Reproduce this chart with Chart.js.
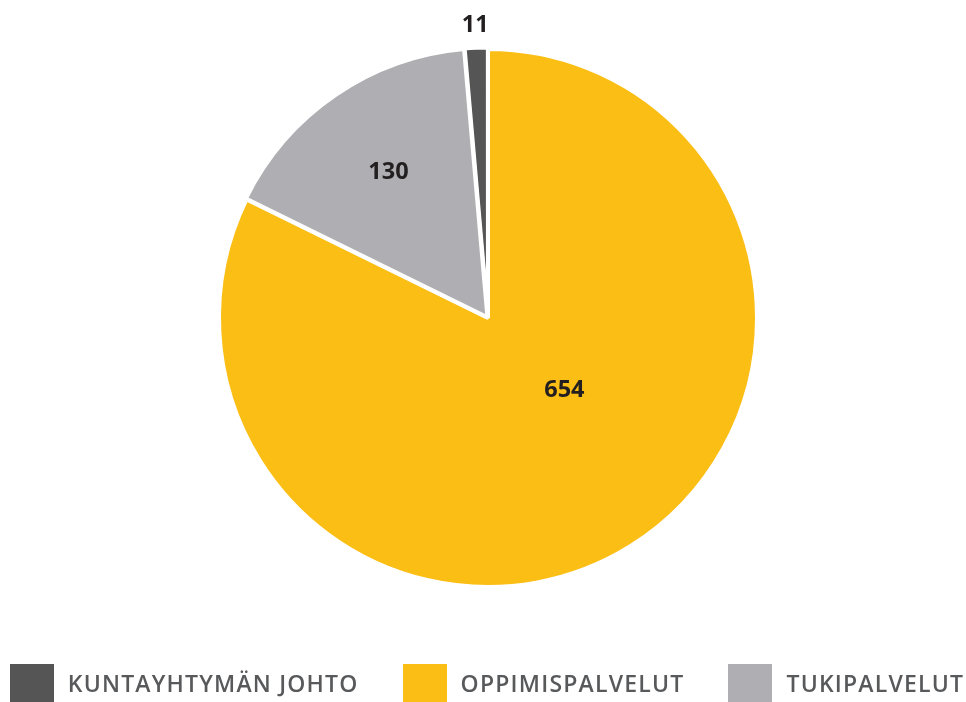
<!DOCTYPE html>
<html>
<head>
<meta charset="utf-8">
<script src="https://cdn.jsdelivr.net/npm/chart.js@4.4.1/dist/chart.umd.min.js"></script>
<style>
  html, body { margin: 0; padding: 0; background: #ffffff; }
  #wrap { position: relative; width: 966px; height: 702px; overflow: hidden; }
  #chartBox { position: absolute; left: 0; top: 0; width: 966px; height: 702px; }
  #legend { position: absolute; left: 4px; top: 664px; width: 966px; height: 38px;
            display: flex; justify-content: center; align-items: center; gap: 44px; }
  .item { display: flex; align-items: center; }
  .box { width: 44px; height: 38px; margin-right: 14px; }
  .lbl { font-family: "Open Sans", sans-serif; font-weight: 600; font-size: 23px;
         letter-spacing: 1.2px; color: #58595b; white-space: nowrap; line-height: 38px; }
</style>
</head>
<body>
<div id="wrap">
  <div id="chartBox"><canvas id="c"></canvas></div>
  <div id="legend"></div>
</div>
<script>
// ---- data ----
const categories = ["KUNTAYHTYMÄN JOHTO", "OPPIMISPALVELUT", "TUKIPALVELUT"];
const values = [11, 654, 130];
const colors = ["#555556", "#fbbe15", "#afafb3"];

// label placement (fraction of arc span, fraction of radius)
const labelAngleFrac = [0.5, 0.45, 0.5];
const labelRadiusFrac = [1.09, 0.39, 0.655];

const total = values.reduce((a, b) => a + b, 0);
const startRotation = -values[0] / total * 360;

const valueLabels = {
  id: 'valueLabels',
  afterDatasetsDraw(chart) {
    const ctx = chart.ctx;
    const meta = chart.getDatasetMeta(0);
    ctx.save();
    ctx.font = 'bold 23.5px "Open Sans", sans-serif';
    ctx.fillStyle = '#231f20';
    ctx.textAlign = 'center';
    ctx.textBaseline = 'middle';
    meta.data.forEach((arc, i) => {
      const p = arc.getProps(['x', 'y', 'startAngle', 'endAngle', 'outerRadius'], true);
      const a = p.startAngle + (p.endAngle - p.startAngle) * labelAngleFrac[i];
      const r = p.outerRadius * labelRadiusFrac[i];
      ctx.fillText(String(values[i]), p.x + Math.cos(a) * r, p.y + Math.sin(a) * r);
    });
    ctx.restore();
  }
};

const chart = new Chart(document.getElementById('c'), {
  type: 'pie',
  data: {
    labels: categories,
    datasets: [{
      data: values,
      backgroundColor: colors,
      borderColor: '#ffffff',
      borderWidth: 4,
      offset: [3, 0, 4],
      hoverOffset: 0,
      radius: 269
    }]
  },
  options: {
    responsive: true,
    maintainAspectRatio: false,
    animation: false,
    rotation: startRotation,
    layout: { padding: { top: 49, bottom: 115, left: 10, right: 0 } },
    plugins: { legend: { display: false }, tooltip: { enabled: false } },
    events: []
  },
  plugins: [valueLabels]
});

// HTML legend built from the same arrays
const legend = document.getElementById('legend');
categories.forEach((name, i) => {
  const it = document.createElement('div');
  it.className = 'item';
  const b = document.createElement('div');
  b.className = 'box';
  b.style.background = colors[i];
  const t = document.createElement('span');
  t.className = 'lbl';
  t.textContent = name;
  it.appendChild(b); it.appendChild(t);
  legend.appendChild(it);
});
</script>
</body>
</html>
